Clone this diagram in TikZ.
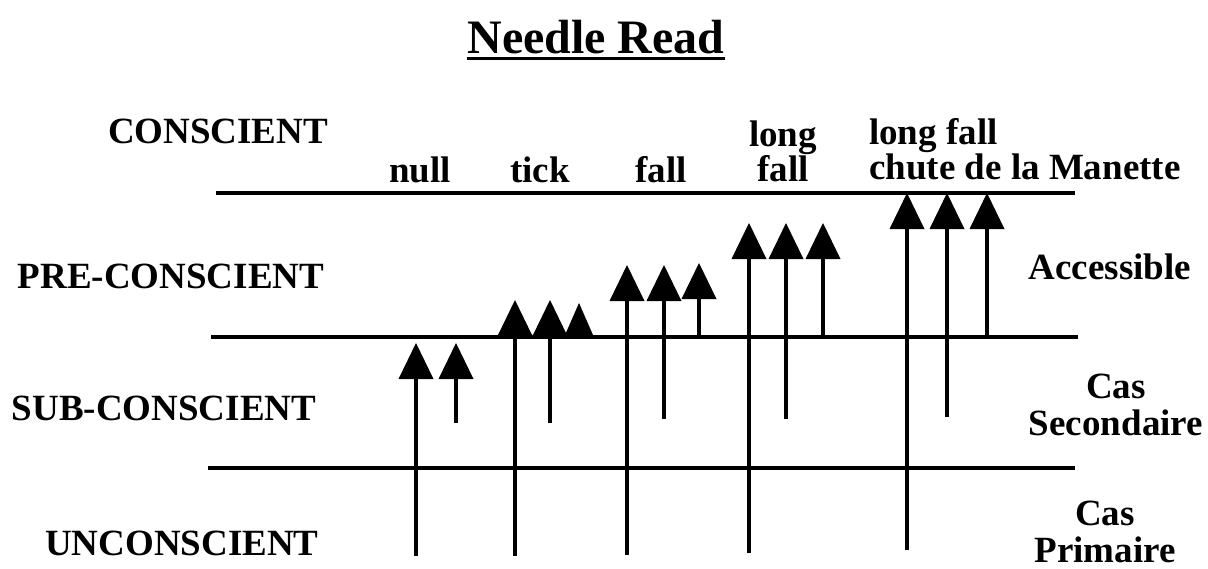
\documentclass[tikz,border=0pt]{standalone}
\usepackage{fontspec}
\setmainfont{Liberation Serif}
\usetikzlibrary{arrows.meta}
\begin{document}
\begin{tikzpicture}[x=1pt,y=-1pt,
  lbl/.style={font=\bfseries\fontsize{37}{37}\selectfont, inner sep=0pt, anchor=base},
  mlbl/.style={font=\bfseries\fontsize{37}{35}\selectfont, inner sep=0pt, align=center, anchor=south},
  rlbl/.style={mlbl, font=\bfseries\fontsize{37}{37}\selectfont},
  level/.style={line width=4pt},
  needle/.style={line width=4pt, -{Triangle[width=35pt,length=36pt,line width=0pt]}},
  smallneedle/.style={line width=4pt, -{Triangle[width=28pt,length=32pt,line width=0pt]}}]
\useasboundingbox (0,0) rectangle (1208,568);
% title
\node[font=\bfseries\fontsize{48}{48}\selectfont, inner sep=0pt, anchor=base] (title) at (596,53) {Needle Read};
\draw[line width=3pt] ([yshift=-5pt]title.base west) -- ([yshift=-5pt]title.base east);
% level labels
\node[lbl] (lc) at (218,143) {CONSCIENT};
\node[lbl] (lp) at (171,288) {PRE-CONSCIENT};
\node[lbl] (ls) at (164,420) {SUB-CONSCIENT};
\node[lbl] (lu) at (182,555) {UNCONSCIENT};
% column labels
\node[lbl] (cnull) at (420,182) {null};
\node[lbl] (ctick) at (540,182) {tick};
\node[lbl] (cfall) at (661,182) {fall};
\node[mlbl] (clong) at (783,182) {long\\fall};
\node[mlbl, align=left, anchor=south west] (clfc) at (869,180) {long fall\\chute de la Manette};
% right labels
\node[lbl] (racc) at (1110,279) {Accessible};
\node[rlbl] (rsec) at (1116,436) {Cas\\Secondaire};
\node[rlbl] (rprim) at (1105,563) {Cas\\Primaire};
% level lines
\coordinate (l1a) at (216,193); \coordinate (l1b) at (1075,193);
\coordinate (l2a) at (211,337); \coordinate (l2b) at (1078,337);
\coordinate (l3a) at (208,468); \coordinate (l3b) at (1075,468);
\draw[level] (l1a) -- (l1b);
\draw[level] (l2a) -- (l2b);
\draw[level] (l3a) -- (l3b);
% needles: null
\coordinate (n1b) at (416,556); \coordinate (n1t) at (416,343);
\coordinate (n2b) at (456,423); \coordinate (n2t) at (456,343);
\draw[needle] (n1b) -- (n1t);
\draw[needle] (n2b) -- (n2t);
% tick
\coordinate (t1b) at (515,556); \coordinate (t1t) at (515,300);
\coordinate (t2b) at (550,423); \coordinate (t2t) at (550,300);
\coordinate (t3b) at (579,337); \coordinate (t3t) at (579,303);
\draw[needle] (t1b) -- (t1t);
\draw[needle] (t2b) -- (t2t);
\draw[smallneedle] (t3b) -- (t3t);
% fall
\coordinate (f1b) at (627,555); \coordinate (f1t) at (627,265);
\coordinate (f2b) at (664,419); \coordinate (f2t) at (664,265);
\coordinate (f3b) at (699,337); \coordinate (f3t) at (699,263);
\draw[needle] (f1b) -- (f1t);
\draw[needle] (f2b) -- (f2t);
\draw[needle] (f3b) -- (f3t);
% long fall
\coordinate (g1b) at (749,553); \coordinate (g1t) at (749,223);
\coordinate (g2b) at (786,419); \coordinate (g2t) at (786,223);
\coordinate (g3b) at (823,337); \coordinate (g3t) at (823,223);
\draw[needle] (g1b) -- (g1t);
\draw[needle] (g2b) -- (g2t);
\draw[needle] (g3b) -- (g3t);
% long fall chute de la Manette
\coordinate (h1b) at (907,550); \coordinate (h1t) at (907,193);
\coordinate (h2b) at (947,417); \coordinate (h2t) at (947,193);
\coordinate (h3b) at (987,337); \coordinate (h3t) at (987,193);
\draw[needle] (h1b) -- (h1t);
\draw[needle] (h2b) -- (h2t);
\draw[needle] (h3b) -- (h3t);
\end{tikzpicture}
\end{document}
